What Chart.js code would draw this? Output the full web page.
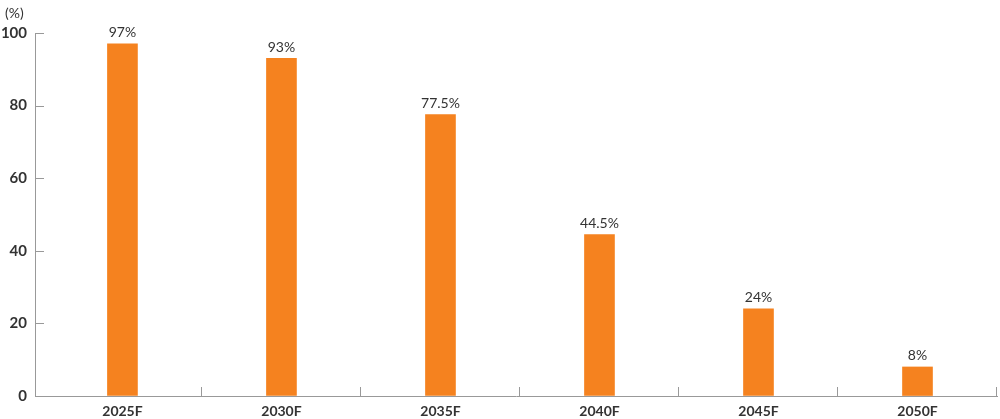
<!DOCTYPE html>
<html>
<head>
<meta charset="utf-8">
<script src="https://cdn.jsdelivr.net/npm/chart.js@4"></script>
<style>
  html, body { margin: 0; padding: 0; background: #fff; overflow: hidden; }
  #wrap { width: 1000px; height: 419px; position: relative; }
</style>
</head>
<body>
<div id="wrap"><canvas id="chart"></canvas></div>
<script>
var categories = ['2025F', '2030F', '2035F', '2040F', '2045F', '2050F'];
var shares = [97, 93, 77.5, 44.5, 24, 8];
var valueLabels = ['97%', '93%', '77.5%', '44.5%', '24%', '8%'];
var yTicks = [0, 20, 40, 60, 80, 100];
var unitLabel = '(%)';

var points = shares.map(function(v, i) { return { x: i, y: v }; });

// values on top of bars + unit label
var barLabels = {
  id: 'barLabels',
  afterDatasetsDraw: function(chart) {
    var ctx = chart.ctx;
    var meta = chart.getDatasetMeta(0);
    ctx.save();
    ctx.fillStyle = '#333';
    ctx.font = '14px Lato';
    ctx.textAlign = 'center';
    ctx.textBaseline = 'bottom';
    meta.data.forEach(function(bar, i) {
      ctx.fillText(valueLabels[i], bar.x, bar.y - 4);
    });
    ctx.textAlign = 'left';
    ctx.textBaseline = 'middle';
    ctx.fillText(unitLabel, 5, 13);
    ctx.restore();
  }
};

// short tick marks pointing into the plot
var innerTicks = {
  id: 'innerTicks',
  afterDraw: function(chart) {
    var ctx = chart.ctx;
    var xs = chart.scales.x, ys = chart.scales.y;
    var area = chart.chartArea;
    ctx.save();
    ctx.strokeStyle = '#999';
    ctx.lineWidth = 1;
    ctx.beginPath();
    ys.ticks.forEach(function(t) {
      var py = Math.round(ys.getPixelForValue(t.value)) + 0.5;
      ctx.moveTo(area.left, py);
      ctx.lineTo(area.left + 9, py);
    });
    xs.ticks.forEach(function(t) {
      var px = Math.round(xs.getPixelForValue(t.value)) - 0.5;
      ctx.moveTo(px, area.bottom);
      ctx.lineTo(px, area.bottom - 9);
    });
    ctx.stroke();
    ctx.restore();
  }
};

new Chart(document.getElementById('chart'), {
  type: 'bar',
  data: {
    datasets: [{
      data: points,
      backgroundColor: '#F5821F',
      barThickness: 30
    }]
  },
  options: {
    responsive: true,
    maintainAspectRatio: false,
    animation: false,
    layout: { padding: { top: 33, right: 3, left: 0, bottom: 0 } },
    plugins: { legend: { display: false }, tooltip: { enabled: false } },
    scales: {
      x: {
        type: 'linear',
        offset: false,
        min: -0.55,
        max: 5.5,
        afterBuildTicks: function(scale) {
          scale.ticks = categories.map(function(c, i) { return { value: i + 0.5 }; });
        },
        afterFit: function(scale) {
          scale.height = 23;
          scale.paddingLeft = 0; scale.paddingRight = 0;
          scale.paddingTop = 0; scale.paddingBottom = 0;
        },
        border: { color: '#999', width: 1 },
        grid: { drawOnChartArea: false, drawTicks: false, color: '#999' },
        ticks: {
          autoSkip: false,
          maxRotation: 0,
          padding: 7,
          labelOffset: -79.5,
          color: '#333',
          font: { family: 'Lato', size: 14, weight: 'bold' },
          callback: function(v) { return categories[Math.round(v - 0.5)]; }
        }
      },
      y: {
        min: 0,
        max: 100,
        afterBuildTicks: function(scale) {
          scale.ticks = yTicks.map(function(v) { return { value: v }; });
        },
        afterFit: function(scale) {
          scale.width = 35;
          scale.paddingLeft = 0; scale.paddingRight = 0;
          scale.paddingTop = 0; scale.paddingBottom = 0;
        },
        border: { color: '#999', width: 1 },
        grid: { drawOnChartArea: false, drawTicks: false, color: '#999' },
        ticks: {
          padding: 8,
          color: '#333',
          font: { family: 'Lato', size: 15, weight: 'bold' }
        }
      }
    }
  },
  plugins: [barLabels, innerTicks]
});
</script>
</body>
</html>
